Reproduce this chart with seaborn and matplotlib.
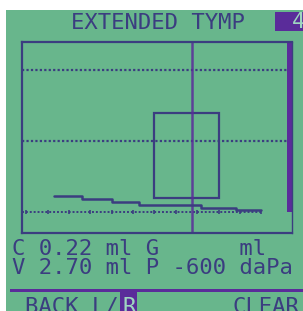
import numpy as np
import pandas as pd
import matplotlib.pyplot as plt
import matplotlib.patches as mpatches
import seaborn as sns

sns.set_style("white")
plt.rcParams['font.family'] = ['DejaVu Sans Mono', 'DejaVu Sans']

# --------------------------------------------------
# data
# --------------------------------------------------
pressure = [-335, -270, -200, -135, 10, 90, 150]      # daPa, step starts
compliance = [0.22, 0.18, 0.14, 0.10, 0.06, 0.03, 0.03]  # ml
box_p = [-100, 50]        # normal pressure range
box_c = [0.2, 1.4]        # normal compliance range
cursor = -12
grid_levels = [1.0, 2.0]
base_ticks = [-400, -350, -300, -250, -200, -150, -100, -50, 0, 50, 100, 150]

title = "EXTENDED TYMP"
page = "4"
row1 = "C 0.22 ml G      ml"
row2 = "V 2.70 ml P -600 daPa"
soft_left = "BACK L/"
soft_sel = "R"
soft_right = "CLEAR"

df = pd.DataFrame({'pressure': pressure, 'compliance': compliance})

# --------------------------------------------------
# colours
# --------------------------------------------------
lcd = '#68b68c'
ink = '#3b3d80'
purple = '#5a2c9a'

W, H = 303, 311
fig = plt.figure(figsize=(W / 100, H / 100), dpi=100, facecolor='white')


def fx(px):
    return px / W


def fy(py):
    return 1 - py / H


# lcd background (white margin top and left from the photo)
fig.patches.append(mpatches.Rectangle((fx(6), 0), 1, fy(10), transform=fig.transFigure,
                                      facecolor=lcd, edgecolor='none', zorder=-5))

# --------------------------------------------------
# plot area
# --------------------------------------------------
x0, x1 = -410, 222
ax = fig.add_axes([fx(22), fy(233), fx(270), (233 - 42) / H])
ax.set_zorder(2)
ax.set_facecolor('none')
ax.set_xlim(x0, x1)
ax.set_ylim(-0.3, 2.4)
for s in ax.spines.values():
    s.set_color(ink)
    s.set_linewidth(1.6)
ax.spines['right'].set_linewidth(1.0)
ax.set_xticks([])
ax.set_yticks([])

bar_x = 210
for lv in grid_levels:
    ax.axhline(lv, xmax=(bar_x - x0) / (x1 - x0), color=ink, lw=1.6, ls=(0, (1, 1)))

# baseline with tick marks
ax.plot([x0, 150], [0, 0], color=ink, lw=1.4, ls=(0, (1, 1)))
ax.vlines(base_ticks, -0.03, 0.03, color=ink, lw=1.2)

# pressure cursor
ax.axvline(cursor, color=purple, lw=1.8, alpha=0.85)

# normal range box
ax.add_patch(mpatches.Rectangle((box_p[0], box_c[0]), box_p[1] - box_p[0], box_c[1] - box_c[0],
                                fill=False, edgecolor=ink, lw=1.6))

# thick bar on the right
ax.axvspan(bar_x, x1, ymin=0.3 / 2.7, ymax=1, color=purple, lw=0)

# tymp curve
sns.lineplot(data=df, x='pressure', y='compliance', ax=ax, drawstyle='steps-post',
             color=ink, lw=1.8, estimator=None, sort=False)
ax.set_xlabel('')
ax.set_ylabel('')

# --------------------------------------------------
# texts
# --------------------------------------------------
fs = 16
fig.text(fx(158), fy(23), title, ha='center', va='center', fontsize=fs, color=ink)

fig.patches.append(mpatches.Rectangle((fx(275), fy(31)), fx(40), 19 / H, transform=fig.transFigure,
                                      facecolor=purple, edgecolor='none'))
fig.text(fx(292), fy(22), page, ha='left', va='center', fontsize=fs, color='#9ed6c0')

fig.text(fx(12), fy(249), row1, ha='left', va='center', fontsize=fs, color=ink)
fig.text(fx(12), fy(268), row2, ha='left', va='center', fontsize=fs, color=ink)

fig.patches.append(mpatches.Rectangle((fx(10), fy(291.5)), 1, 3 / H, transform=fig.transFigure,
                                      facecolor=purple, edgecolor='none'))
fig.patches.append(mpatches.Rectangle((fx(120), 0), fx(17), fy(289), transform=fig.transFigure,
                                      facecolor=purple, edgecolor='none'))
fig.text(fx(25), fy(307), soft_left, ha='left', va='center', fontsize=fs, color=ink)
fig.text(fx(122), fy(307), soft_sel, ha='left', va='center', fontsize=fs, color='#9ed6c0')
fig.text(fx(233), fy(307), soft_right, ha='left', va='center', fontsize=fs, color=ink)

plt.savefig('out.png', dpi=100, facecolor=fig.get_facecolor())
